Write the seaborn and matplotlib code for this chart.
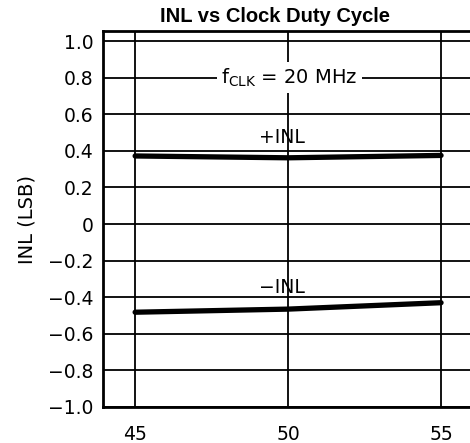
import matplotlib
matplotlib.use("Agg")
import matplotlib.pyplot as plt
import pandas as pd
import seaborn as sns

# values
duty_cycle = [45, 50, 55]
inl_pos = [0.372, 0.362, 0.375]
inl_neg = [-0.482, -0.465, -0.43]
x_ticks = [45, 50, 55]
y_ticks = [-1.0, -0.8, -0.6, -0.4, -0.2, 0, 0.2, 0.4, 0.6, 0.8, 1.0]
y_tick_labels = ['\u22121.0', '\u22120.8', '\u22120.6', '\u22120.4', '\u22120.2', '0',
                 '0.2', '0.4', '0.6', '0.8', '1.0']

df = pd.concat([
    pd.DataFrame({'duty': duty_cycle, 'inl': inl_pos, 'curve': '+INL'}),
    pd.DataFrame({'duty': duty_cycle, 'inl': inl_neg, 'curve': '-INL'}),
], ignore_index=True)

sns.set_style("white")
plt.rcParams['font.family'] = ['DejaVu Sans']
plt.rcParams['text.color'] = 'black'
plt.rcParams['xtick.color'] = 'black'
plt.rcParams['ytick.color'] = 'black'
plt.rcParams['axes.labelcolor'] = 'black'

fig = plt.figure(figsize=(4.7, 4.43), dpi=100)
ax = fig.add_axes([103 / 470, 36 / 443, 1.0 - 103 / 470 + 0.01, (407 - 31) / 443])

sns.lineplot(data=df, x='duty', y='inl', hue='curve',
             palette={'+INL': 'black', '-INL': 'black'},
             linewidth=3.8, legend=False, ax=ax)

ax.set_xlim(43.95, 56.1)
ax.set_ylim(-1.0, 1.055)
ax.set_xticks(x_ticks)
ax.set_xticklabels([str(v) for v in x_ticks], fontsize=13.5)
ax.set_yticks(y_ticks)
ax.set_yticklabels(y_tick_labels, fontsize=13.5)
ax.tick_params(axis='y', length=0, pad=7)
ax.tick_params(axis='x', length=0, pad=13)
ax.grid(True, color='black', linewidth=1.3)
ax.set_axisbelow(True)
for side in ['left', 'bottom', 'top']:
    ax.spines[side].set_color('black')
    ax.spines[side].set_linewidth(2)
ax.spines['right'].set_visible(False)

ax.set_xlabel('')
ax.set_ylabel('INL (LSB)', fontsize=14, labelpad=8)

ax.text(50.05, 0.8, r'$\mathregular{f_{CLK}}$ = 20 MHz', ha='center', va='center', fontsize=14,
        bbox=dict(facecolor='white', edgecolor='none', pad=3))
ax.text(49.8, 0.475, '+INL', ha='center', va='center', fontsize=13.5)
ax.text(49.8, -0.345, '\u2212INL', ha='center', va='center', fontsize=13.5)

fig.text(275 / 470, 1 - 16 / 443, 'INL vs Clock Duty Cycle', ha='center', va='center',
         fontsize=14.5, fontweight='bold', family=['Liberation Sans'])

fig.savefig('out.png', dpi=100)
plt.close(fig)
